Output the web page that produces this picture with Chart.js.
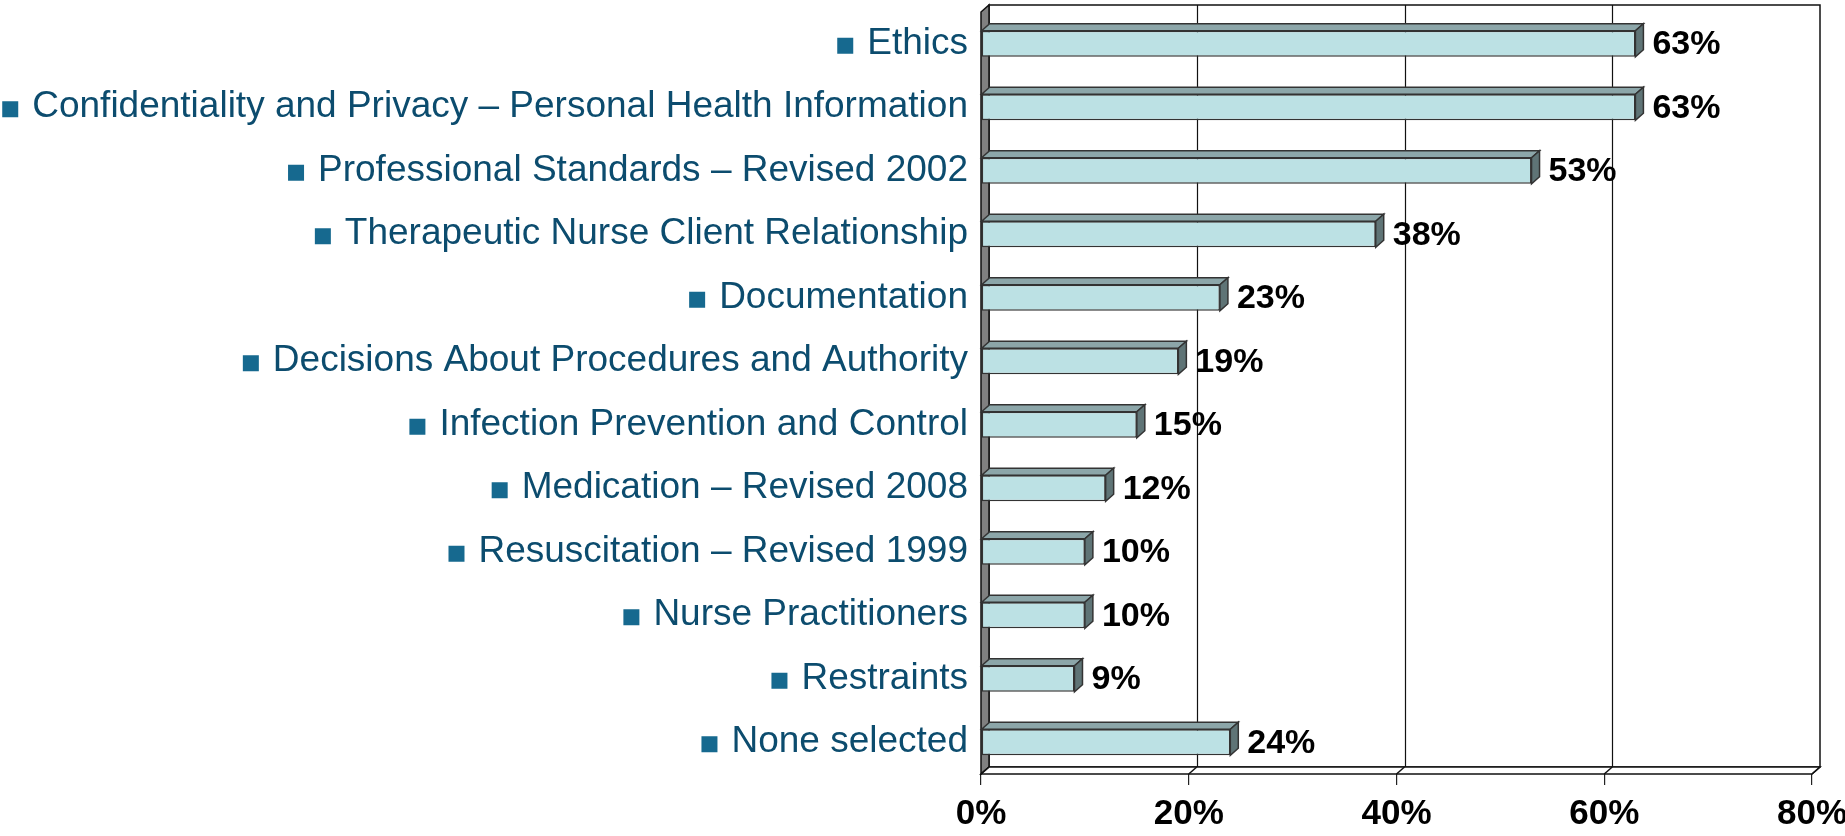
<!DOCTYPE html>
<html>
<head>
<meta charset="utf-8">
<script src="https://cdn.jsdelivr.net/npm/chart.js@4"></script>
<style>
  html, body { margin: 0; padding: 0; background: #fff; }
  #wrap { width: 1845px; height: 836px; }
</style>
</head>
<body>
<div id="wrap"><canvas id="bar_chart"></canvas></div>
<script>
const categories = [
  'Ethics',
  'Confidentiality and Privacy \u2013 Personal Health Information',
  'Professional Standards \u2013 Revised 2002',
  'Therapeutic Nurse Client Relationship',
  'Documentation',
  'Decisions About Procedures and Authority',
  'Infection Prevention and Control',
  'Medication \u2013 Revised 2008',
  'Resuscitation \u2013 Revised 1999',
  'Nurse Practitioners',
  'Restraints',
  'None selected'
]
const percents = [63, 63, 53, 38, 23, 19, 15, 12, 10, 10, 9, 24]
const tickValues = [0, 20, 40, 60, 80]

const DX = 8, DY = -7
const labelFont = '37px "Liberation Sans", Arial, sans-serif'
const boldFont = 'bold 34px "Liberation Sans", Arial, sans-serif'

// back wall, left wall, floor
const boxPlugin = {
  id: 'box3d',
  beforeDatasetsDraw(chart) {
    const { ctx, chartArea: a, scales: { x } } = chart
    ctx.save()
    ctx.lineWidth = 1.5
    ctx.strokeStyle = '#111'
    // back wall
    ctx.fillStyle = '#fff'
    ctx.fillRect(a.left + DX, a.top + DY, a.right - a.left, a.bottom - a.top)
    ctx.strokeRect(a.left + DX, a.top + DY, a.right - a.left, a.bottom - a.top)
    // grid on back wall
    ctx.lineWidth = 1.2
    tickValues.slice(1, -1).forEach(v => {
      const px = Math.round(x.getPixelForValue(v) + DX) + 0.5
      ctx.beginPath()
      ctx.moveTo(px, a.top + DY)
      ctx.lineTo(px, a.bottom + DY)
      ctx.stroke()
    })
    // left wall
    ctx.lineWidth = 1.5
    ctx.fillStyle = '#808080'
    ctx.beginPath()
    ctx.moveTo(a.left, a.top)
    ctx.lineTo(a.left + DX, a.top + DY)
    ctx.lineTo(a.left + DX, a.bottom + DY)
    ctx.lineTo(a.left, a.bottom)
    ctx.closePath()
    ctx.fill()
    ctx.stroke()
    // floor
    ctx.fillStyle = '#fff'
    ctx.beginPath()
    ctx.moveTo(a.left, a.bottom)
    ctx.lineTo(a.left + DX, a.bottom + DY)
    ctx.lineTo(a.right + DX, a.bottom + DY)
    ctx.lineTo(a.right, a.bottom)
    ctx.closePath()
    ctx.fill()
    ctx.stroke()
    tickValues.forEach(v => {
      const px = x.getPixelForValue(v)
      ctx.beginPath()
      ctx.moveTo(px, a.bottom)
      ctx.lineTo(px + DX, a.bottom + DY)
      ctx.stroke()
    })
    ctx.restore()
  },
  afterDatasetsDraw(chart) {
    const { ctx } = chart
    const meta = chart.getDatasetMeta(0)
    ctx.save()
    ctx.lineWidth = 1.5
    ctx.strokeStyle = '#333'
    meta.data.forEach((bar, i) => {
      const x0 = bar.base, x1 = bar.x
      const yt = bar.y - bar.height / 2, yb = bar.y + bar.height / 2
      // top face
      ctx.fillStyle = '#8CA6A9'
      ctx.beginPath()
      ctx.moveTo(x0, yt)
      ctx.lineTo(x0 + DX, yt + DY)
      ctx.lineTo(x1 + DX, yt + DY)
      ctx.lineTo(x1, yt)
      ctx.closePath()
      ctx.fill()
      ctx.stroke()
      // side face
      ctx.fillStyle = '#5F7476'
      ctx.beginPath()
      ctx.moveTo(x1, yt)
      ctx.lineTo(x1 + DX, yt + DY)
      ctx.lineTo(x1 + DX, yb + DY)
      ctx.lineTo(x1, yb)
      ctx.closePath()
      ctx.fill()
      ctx.stroke()
      // value label
      ctx.fillStyle = '#000'
      ctx.font = boldFont
      ctx.textAlign = 'left'
      ctx.textBaseline = 'middle'
      ctx.fillText(percents[i] + '%', x1 + DX + 9, bar.y + 1)
    })
    ctx.restore()
  },
  afterDraw(chart) {
    const { ctx, scales: { y } } = chart
    ctx.save()
    ctx.font = labelFont
    ctx.fillStyle = '#16698F'
    categories.forEach((c, i) => {
      const w = ctx.measureText(c).width
      const py = y.getPixelForTick(i)
      const right = chart.chartArea.left - 13 - w - 14
      ctx.fillRect(right - 16, py - 6, 16, 16)
    })
    ctx.restore()
  }
}

new Chart(document.querySelector('#bar_chart'), {
  type: 'bar',
  data: {
    labels: categories,
    datasets: [{
      data: percents,
      backgroundColor: '#BCE1E4',
      borderColor: '#333',
      borderWidth: 1.5,
      borderSkipped: false,
      categoryPercentage: 1,
      barPercentage: 0.41
    }]
  },
  options: {
    indexAxis: 'y',
    responsive: true,
    maintainAspectRatio: false,
    animation: false,
    layout: { padding: { top: 12, right: 33, left: 0, bottom: 0 } },
    plugins: {
      legend: { display: false },
      tooltip: { enabled: false }
    },
    scales: {
      x: {
        min: 0,
        max: 80,
        afterBuildTicks: s => { s.ticks = tickValues.map(v => ({ value: v })) },
        afterFit: s => { s.height = 62; s.paddingLeft = 0; s.paddingRight = 0 },
        ticks: {
          callback: v => v + '%',
          color: '#000',
          font: { family: '"Liberation Sans", Arial, sans-serif', size: 35, weight: 'bold' },
          padding: 8,
          maxRotation: 0
        },
        grid: { drawOnChartArea: false, drawTicks: true, tickLength: 11, color: '#222', lineWidth: 1.2 },
        border: { display: false }
      },
      y: {
        afterFit: s => { s.width = 981; s.paddingTop = 0; s.paddingBottom = 0 },
        ticks: {
          color: '#0C4C6E',
          font: { family: '"Liberation Sans", Arial, sans-serif', size: 37 },
          padding: 13
        },
        grid: { display: false, drawTicks: false },
        border: { display: false }
      }
    }
  },
  plugins: [boxPlugin]
})
</script>
</body>
</html>
